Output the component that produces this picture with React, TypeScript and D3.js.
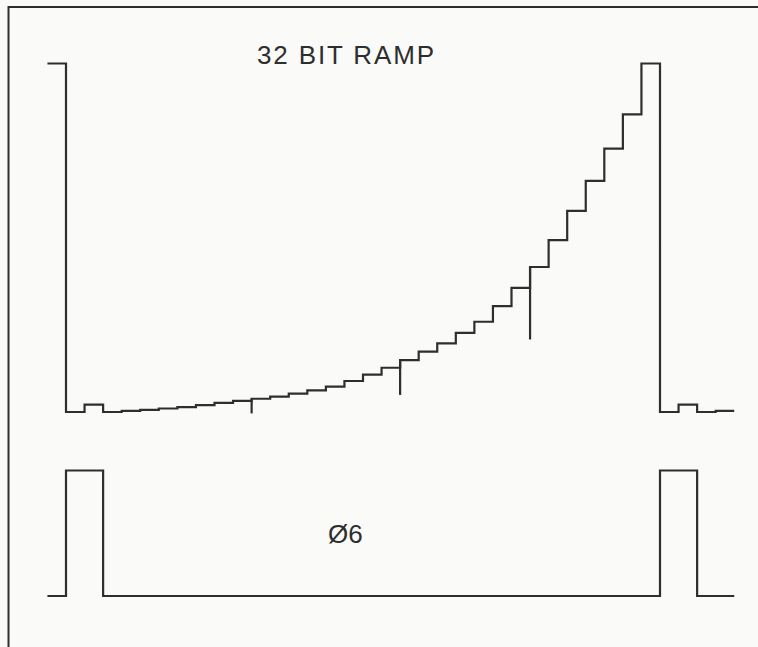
import { useEffect, useRef } from 'react';
import * as d3 from 'd3';

// one ramp period: 32 steps, level in % of full scale
const rampLevels = [
  0, 2.1, 0, 0.3, 0.6, 1.0, 1.4, 2.0, 2.6, 3.2, 3.8, 4.4, 5.3, 6.2, 7.3, 8.9,
  10.7, 12.7, 14.9, 17.3, 19.7, 22.7, 25.9, 30.4, 35.6, 41.6, 49.3, 57.7, 66.3, 75.6, 85.4, 100,
];

// glitch spikes at step edges: step index, lowest value reached
const glitchSteps = [10, 18, 25];
const glitchLows = [-0.4, 4.9, 20.8];

// clock phase 6 : high for the first two steps of each period
const clockLevels = [
  1, 1, 0, 0, 0, 0, 0, 0, 0, 0, 0, 0, 0, 0, 0, 0,
  0, 0, 0, 0, 0, 0, 0, 0, 0, 0, 0, 0, 0, 0, 0, 0,
];

// visible window in steps: last step of previous period to step 3 of the next one
const firstStep = -1;
const lastStep = 36;

const rampTitle = '32 BIT RAMP';
const clockTitle = 'Ø6';

const W = 758;
const H = 647;
const INK = '#2e2e2e';

export default function App() {
  const svgRef = useRef<SVGSVGElement>(null);

  useEffect(() => {
    if (!svgRef.current) return;
    const svg = d3.select(svgRef.current);
    svg.selectAll('*').remove();

    const period = rampLevels.length;
    const x = d3.scaleLinear().domain([0, period]).range([66, 660]);
    const yRamp = d3.scaleLinear().domain([0, 100]).range([412, 63.5]);
    const yClock = d3.scaleLinear().domain([0, 1]).range([596, 470.5]);

    svg.append('rect').attr('width', W).attr('height', H).attr('fill', '#fafaf9');

    // frame (top + left edge only, as on the sheet)
    svg.append('path')
      .attr('d', `M8.5,${H} V7 H${W}`)
      .attr('fill', 'none')
      .attr('stroke', INK)
      .attr('stroke-width', 2);

    const steps = d3.range(firstStep, lastStep + 1);
    const wrap = (k: number) => ((k % period) + period) % period;

    const stepLine = (levels: number[], y: d3.ScaleLinear<number, number>) =>
      d3.line<number>()
        .x(k => x(k))
        .y(k => y(levels[wrap(k === lastStep ? k - 1 : k)]))
        .curve(d3.curveStepAfter)(steps);

    svg.append('path')
      .attr('d', stepLine(rampLevels, yRamp))
      .attr('fill', 'none')
      .attr('stroke', INK)
      .attr('stroke-width', 2.2)
      .attr('stroke-linejoin', 'miter');

    glitchSteps.forEach((k, i) => {
      svg.append('line')
        .attr('x1', x(k)).attr('x2', x(k))
        .attr('y1', yRamp(rampLevels[k]))
        .attr('y2', yRamp(glitchLows[i]))
        .attr('stroke', INK)
        .attr('stroke-width', 2.2);
    });

    svg.append('path')
      .attr('d', stepLine(clockLevels, yClock))
      .attr('fill', 'none')
      .attr('stroke', INK)
      .attr('stroke-width', 2.2);

    svg.append('text')
      .attr('x', 257)
      .attr('y', 64)
      .attr('textLength', 177)
      .attr('lengthAdjust', 'spacing')
      .attr('font-family', '"Liberation Sans", Arial, sans-serif')
      .attr('font-size', 26)
      .attr('fill', INK)
      .text(rampTitle);

    svg.append('text')
      .attr('x', 328)
      .attr('y', 543)
      .attr('font-family', '"Liberation Sans", Arial, sans-serif')
      .attr('font-size', 26)
      .attr('fill', INK)
      .text(clockTitle);
  }, []);

  return (
    <svg
      ref={svgRef}
      width={W}
      height={H}
      style={{ position: 'absolute', left: 0, top: 0, display: 'block' }}
    />
  );
}
